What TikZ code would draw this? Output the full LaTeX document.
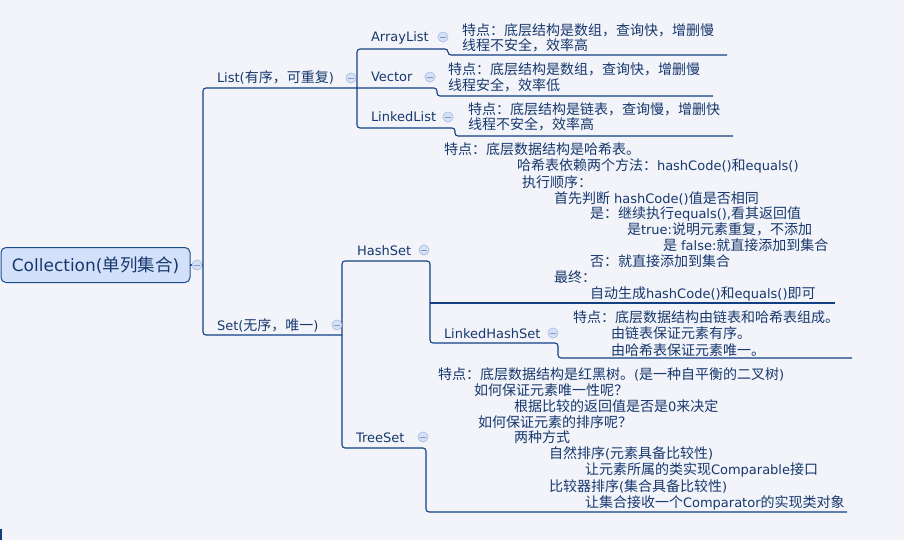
\documentclass[tikz,border=0pt]{standalone}
\usepackage{fontspec}
\setmainfont{Noto Sans CJK SC}
\newfontfamily\latinfont{DejaVu Sans}
\newcommand\ltn[1]{{\latinfont\fontsize{13}{16}\selectfont #1}}
\newcommand\rltn[1]{{\latinfont\fontsize{17}{20}\selectfont #1}}
\definecolor{bgcol}{HTML}{F2F4F9}
\definecolor{linecol}{HTML}{123F82}
\definecolor{txtcol}{HTML}{17386E}
\definecolor{rootfill}{HTML}{D3E0FA}
\definecolor{rootdraw}{HTML}{1B4D8F}
\definecolor{cfill}{HTML}{D8E2F5}
\definecolor{cdraw}{HTML}{A8BDE4}
\definecolor{cminus}{HTML}{7F99CC}
\begin{document}
\begin{tikzpicture}[x=1pt,y=-1pt,
  every node/.style={inner sep=0pt,outer sep=0pt},
  txt/.style={anchor=base west,text=txtcol,font=\fontsize{14}{16}\selectfont},
  conn/.style={draw=linecol,line width=1.1pt,rounded corners=3pt},
  rootbox/.style={draw=rootdraw,fill=rootfill,line width=1pt,rounded corners=5pt,
    minimum width=189pt,minimum height=35pt,text=txtcol,font=\fontsize{17.5}{20}\selectfont},
  collapse/.style={circle,draw=cdraw,fill=cfill,line width=0.7pt,minimum size=10pt,
    path picture={\draw[cminus,line width=0.9pt]
      ([xshift=-2.6pt]path picture bounding box.center) --
      ([xshift=2.6pt]path picture bounding box.center);}}]
\path[use as bounding box,fill=bgcol] (0,0) rectangle (904,540);
\fill[linecol] (0,529) rectangle (1.5,540);

% ---------- junction coordinates ----------
\coordinate (rootJ) at (203,265);
\coordinate (tTop) at (203,88);
\coordinate (tBot) at (203,335);
\coordinate (listEnd) at (357,88);
\coordinate (setEnd) at (342,335);
\coordinate (al1) at (357,49);
\coordinate (al2) at (448,49);
\coordinate (ald1) at (448,55);
\coordinate (ald2) at (727,55);
\coordinate (v2) at (437,88);
\coordinate (vd1) at (437,96);
\coordinate (vd2) at (713,96);
\coordinate (ll1) at (357,128);
\coordinate (ll2) at (455,128);
\coordinate (lld1) at (455,136);
\coordinate (lld2) at (733,136);
\coordinate (hs1) at (342,261);
\coordinate (hs2) at (430,261);
\coordinate (hsd1) at (430,303);
\coordinate (hsd2) at (835,303);
\coordinate (lhs1) at (430,343);
\coordinate (lhs2) at (558,343);
\coordinate (lhsd1) at (558,358);
\coordinate (lhsd2) at (852,358);
\coordinate (ts1) at (342,448);
\coordinate (ts2) at (426,448);
\coordinate (tsd1) at (426,512);
\coordinate (tsd2) at (847,512);

% ---------- root ----------
\node[rootbox] (root) at (95.5,265) {\rltn{Collection(}单列集合\rltn{)}};

% ---------- connectors ----------
\draw[conn] (root.east) -- (rootJ);
\draw[conn] (listEnd) -- (tTop) -- (tBot) -- (setEnd);
\draw[conn] (ald2) -- (ald1) -- (al2) -- (al1) -- (ll1) -- (ll2) -- (lld1) -- (lld2);
\draw[conn] (listEnd) -- (v2) -- (vd1) -- (vd2);
\draw[conn] (tsd2) -- (tsd1) -- (ts2) -- (ts1) -- (hs1) -- (hs2) -- (lhs1) -- (lhs2) -- (lhsd1) -- (lhsd2);
\draw[conn] (hsd1) -- (hsd2);

% ---------- topic labels ----------
\node[txt] (list) at (217,83) {\ltn{List(}有序，可重复\ltn{)}};
\node[txt] (arraylist) at (371,42) {\ltn{ArrayList}};
\node[txt] (vector) at (371,82) {\ltn{Vector}};
\node[txt] (linkedlist) at (371,122) {\ltn{LinkedList}};
\node[txt] (set) at (217,330) {\ltn{Set(}无序，唯一\ltn{)}};
\node[txt] (hashset) at (357,255) {\ltn{HashSet}};
\node[txt] (linkedhashset) at (444,338) {\ltn{LinkedHashSet}};
\node[txt] (treeset) at (356,442) {\ltn{TreeSet}};

% ---------- collapse markers ----------
\node[collapse] (cRoot) at (197,265) {};
\node[collapse] (cList) at (351,78) {};
\node[collapse] (cArray) at (443,37) {};
\node[collapse] (cVector) at (430,77) {};
\node[collapse] (cLinked) at (448,117) {};
\node[collapse] (cSet) at (337,325) {};
\node[collapse] (cHash) at (424,250) {};
\node[collapse] (cLHash) at (553,333) {};
\node[collapse] (cTree) at (423,437) {};

% ---------- List descriptions ----------
\node[txt] (ad1) at (462,36) {特点：底层结构是数组，查询快，增删慢};
\node[txt] (ad2) at (462,51) {线程不安全，效率高};
\node[txt] (vd1t) at (448,75) {特点：底层结构是数组，查询快，增删慢};
\node[txt] (vd2t) at (448,91) {线程安全，效率低};
\node[txt] (ld1) at (468,115) {特点：底层结构是链表，查询慢，增删快};
\node[txt] (ld2) at (468,130) {线程不安全，效率高};

% ---------- HashSet description ----------
\node[txt] (h1) at (444,155) {特点：底层数据结构是哈希表。};
\node[txt] (h2) at (517,171) {哈希表依赖两个方法：\ltn{hashCode()}和\ltn{equals()}};
\node[txt] (h3) at (522,187) {执行顺序：};
\node[txt] (h4) at (554,203) {首先判断\ltn{ hashCode()}值是否相同};
\node[txt] (h5) at (590,218) {是：继续执行\ltn{equals(),}看其返回值};
\node[txt] (h6) at (627,234) {是\ltn{true:}说明元素重复，不添加};
\node[txt] (h7) at (663,250) {是\ltn{ false:}就直接添加到集合};
\node[txt] (h8) at (590,266) {否：就直接添加到集合};
\node[txt] (h9) at (554,282) {最终：};
\node[txt] (h10) at (590,298) {自动生成\ltn{hashCode()}和\ltn{equals()}即可};

% ---------- LinkedHashSet description ----------
\node[txt] (lh1) at (573,322) {特点：底层数据结构由链表和哈希表组成。};
\node[txt] (lh2) at (611,338) {由链表保证元素有序。};
\node[txt] (lh3) at (611,355) {由哈希表保证元素唯一。};

% ---------- TreeSet description ----------
\node[txt] (t1) at (438,379) {特点：底层数据结构是红黑树。\ltn{(}是一种自平衡的二叉树\ltn{)}};
\node[txt] (t2) at (474,395) {如何保证元素唯一性呢？};
\node[txt] (t3) at (514,411) {根据比较的返回值是否是\ltn{0}来决定};
\node[txt] (t4) at (478,427) {如何保证元素的排序呢？};
\node[txt] (t5) at (514,442) {两种方式};
\node[txt] (t6) at (549,458) {自然排序\ltn{(}元素具备比较性\ltn{)}};
\node[txt] (t7) at (585,474) {让元素所属的类实现\ltn{Comparable}接口};
\node[txt] (t8) at (549,491) {比较器排序\ltn{(}集合具备比较性\ltn{)}};
\node[txt] (t9) at (585,507) {让集合接收一个\ltn{Comparator}的实现类对象};
\end{tikzpicture}
\end{document}
